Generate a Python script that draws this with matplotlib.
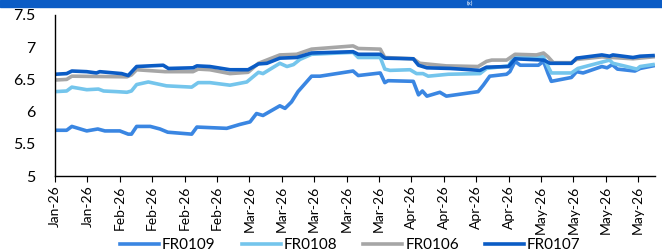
import matplotlib
matplotlib.use("Agg")
import matplotlib.pyplot as plt
from matplotlib.patches import Rectangle

plt.rcParams['font.family'] = ['Lato', 'DejaVu Sans']

# x positions are trading-day indices (tick every 5 days)
tick_labels = ['Jan-26', 'Jan-26', 'Feb-26', 'Feb-26', 'Feb-26', 'Feb-26',
               'Mar-26', 'Mar-26', 'Mar-26', 'Mar-26', 'Mar-26',
               'Apr-26', 'Apr-26', 'Apr-26', 'Apr-26',
               'May-26', 'May-26', 'May-26', 'May-26']

fr0109_x = [0, 1.8, 2.6, 4.9, 6.6, 7.7, 10, 11.3, 11.8, 12.6, 14.7, 16.2, 17.4, 21.1, 21.9,
            26.5, 28.5, 30.1, 31.1, 32.1, 34.7, 35.5, 36.5, 37.5, 39.6, 40.9, 46, 46.8, 50.2,
            50.9, 51.4, 55.3, 56.1, 56.7, 57.4, 59.4, 60.4, 62.5, 65.3, 66.1, 67.1, 69.7, 70.2,
            71, 71.8, 74.6, 75.4, 76.1, 76.6, 79.7, 80.5, 81.5, 84.4, 85.2, 86, 86.8, 89.5,
            90.3, 92.3]
fr0109 = [5.71, 5.71, 5.77, 5.70, 5.73, 5.70, 5.70, 5.65, 5.65, 5.77, 5.77, 5.73, 5.68, 5.65, 5.76,
          5.74, 5.80, 5.84, 5.97, 5.94, 6.09, 6.05, 6.15, 6.31, 6.55, 6.55, 6.63, 6.56, 6.60,
          6.45, 6.48, 6.47, 6.26, 6.32, 6.24, 6.30, 6.24, 6.27, 6.31, 6.41, 6.55, 6.58, 6.62,
          6.78, 6.72, 6.72, 6.78, 6.59, 6.47, 6.53, 6.62, 6.60, 6.70, 6.68, 6.73, 6.66, 6.63,
          6.67, 6.71]

fr0108_x = [0, 1.8, 2.6, 4.9, 6.7, 7.5, 9.5, 11.1, 11.8, 12.6, 14.4, 17.2, 21.1, 22.1, 23.9,
            27, 29.6, 31.4, 32.1, 34.7, 35.8, 36.8, 37.8, 39.6, 46, 46.8, 50.2, 50.9, 51.7,
            54.8, 55.8, 56.8, 57.6, 60.7, 65.6, 66.6, 70, 71, 75.4, 76.1, 76.6, 79.7, 80.7,
            85.6, 86.1, 88.2, 89.8, 90.3, 92.3]
fr0108 = [6.31, 6.32, 6.38, 6.34, 6.35, 6.32, 6.31, 6.30, 6.32, 6.42, 6.46, 6.40, 6.38, 6.45, 6.45,
          6.41, 6.46, 6.61, 6.59, 6.75, 6.70, 6.73, 6.81, 6.89, 6.92, 6.84, 6.84, 6.66, 6.64,
          6.65, 6.59, 6.59, 6.55, 6.58, 6.59, 6.67, 6.71, 6.87, 6.85, 6.70, 6.60, 6.60, 6.67,
          6.80, 6.75, 6.70, 6.66, 6.70, 6.73]

fr0106_x = [0, 1.8, 2.6, 11.1, 11.8, 12.6, 17, 21.3, 22.1, 23.9, 27, 29.8, 31.4, 34.7, 37.3,
            39.6, 46, 46.8, 50.2, 50.9, 55.3, 56.3, 60.4, 65.3, 66.6, 67.4, 69.7, 71, 74.3,
            75.4, 76.1, 76.9, 79.7, 80.5, 84.4, 89.2, 92.3]
fr0106 = [6.49, 6.50, 6.55, 6.54, 6.57, 6.65, 6.62, 6.62, 6.66, 6.65, 6.59, 6.61, 6.75, 6.88, 6.89,
          6.97, 7.02, 6.98, 6.97, 6.84, 6.82, 6.75, 6.71, 6.70, 6.78, 6.80, 6.80, 6.89, 6.88,
          6.91, 6.85, 6.76, 6.76, 6.81, 6.85, 6.82, 6.85]

fr0107_x = [0, 1.8, 2.6, 4.9, 6.4, 6.9, 10.3, 11.3, 12.6, 16.7, 17.5, 21.3, 21.9, 23.9, 27,
            29.8, 31.4, 32.7, 34.7, 37.3, 39.6, 46, 46.8, 50.2, 50.9, 55.3, 56.1, 57.4, 61,
            65.6, 66.6, 70, 71, 75.4, 76.4, 79.7, 80.5, 84.4, 85.6, 86.1, 89.2, 90.3, 92.3]
fr0107 = [6.58, 6.59, 6.63, 6.62, 6.60, 6.62, 6.59, 6.56, 6.70, 6.72, 6.67, 6.68, 6.71, 6.70, 6.65,
          6.65, 6.74, 6.75, 6.83, 6.84, 6.91, 6.93, 6.89, 6.89, 6.83, 6.82, 6.72, 6.68, 6.67,
          6.64, 6.69, 6.70, 6.82, 6.80, 6.75, 6.75, 6.83, 6.88, 6.86, 6.88, 6.84, 6.86, 6.87]

series = [
    ('FR0109', fr0109_x, fr0109, '#3a86e2'),
    ('FR0108', fr0108_x, fr0108, '#74c5ec'),
    ('FR0106', fr0106_x, fr0106, '#a6a6a6'),
    ('FR0107', fr0107_x, fr0107, '#0b5cc5'),
]

fig = plt.figure(figsize=(6.62, 2.52), dpi=100)
ax = fig.add_axes([55 / 662, 1 - 176 / 252, 600 / 662, 161 / 252])

# blue header bar at the top
fig.patches.append(Rectangle((0, 1 - 7 / 252), 1, 7 / 252, transform=fig.transFigure,
                             color='#0b5cc5', zorder=0))
fig.text(0.71, 1 - 3.5 / 252, '(x)', color='white', fontsize=4.5, ha='center', va='center')

for name, xs, ys, col in series:
    ax.plot(xs, ys, color=col, lw=2.6, label=name, solid_joinstyle='round')

ax.set_ylim(5, 7.5)
ax.set_yticks([5, 5.5, 6, 6.5, 7, 7.5])
ax.set_yticklabels(['5', '5.5', '6', '6.5', '7', '7.5'])
ax.set_xlim(0, 92.6)
ax.set_xticks(range(0, 5 * len(tick_labels), 5))
ax.set_xticklabels(tick_labels, rotation=90)
ax.tick_params(axis='y', length=0, labelsize=11.5, pad=14)
ax.tick_params(axis='x', length=4, labelsize=10, direction='out', pad=3)
for side in ['top', 'right']:
    ax.spines[side].set_visible(False)
for side in ['left', 'bottom']:
    ax.spines[side].set_linewidth(1.0)
    ax.spines[side].set_color('black')

fig.legend(loc='center', bbox_to_anchor=(0.529, 0.026), ncol=4, frameon=False,
           fontsize=11, handlelength=2.55, handletextpad=0.2, columnspacing=1.7)

fig.savefig('out.png', dpi=100)
